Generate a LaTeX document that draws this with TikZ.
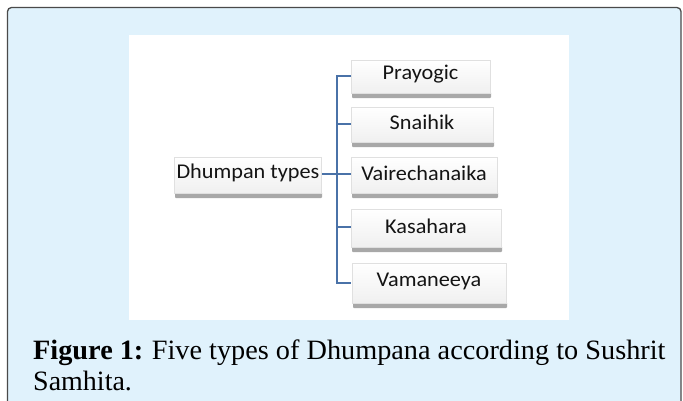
\documentclass[tikz,border=0pt]{standalone}
\usepackage{fontspec}
\setmainfont{Liberation Serif}
\newfontfamily\boxfont{Carlito}
\usetikzlibrary{calc}
\definecolor{panelblue}{HTML}{E0F2FC}
\definecolor{paneledge}{HTML}{4A4A4A}
\definecolor{linkblue}{HTML}{4A72A8}
\definecolor{shadowgray}{HTML}{A8A8A8}
\tikzset{
  typebox/.style={draw=black!12, line width=0.4pt, top color=white, bottom color=black!6},
  boxtext/.style={font=\boxfont\fontsize{21}{23}\selectfont, text=black!92, inner sep=0pt},
  link/.style={draw=linkblue, line width=1.6pt},
  captext/.style={anchor=base west, inner sep=0pt, font=\fontsize{28}{32}\selectfont},
}
\newcommand{\wide}[1]{\scalebox{1.06}[1]{#1}}
\begin{document}
\begin{tikzpicture}[x=1pt,y=-1pt]
\useasboundingbox (0,0) rectangle (683,400);
% outer panel
\path[fill=panelblue, draw=paneledge, line width=1.3pt, rounded corners=4pt] (7.5,7.5) rectangle (681,412);
% white figure area
\fill[white] (129,35) rectangle (569,320);
% boxes: shadow then main
\fill[shadowgray, rounded corners=1pt] (175,192) rectangle (322,198);
\fill[typebox] (174,157) rectangle (321,193);
\node[boxtext] (root) at (248,173) {\wide{Dhumpan types}};
\coordinate (rootr) at (322,174);

\fill[shadowgray, rounded corners=1pt] (352,92) rectangle (491,98);
\fill[typebox] (351,60) rectangle (490,93);
\node[boxtext] (t1) at (420.5,74.5) {\wide{Prayogic}};

\fill[shadowgray, rounded corners=1pt] (352,141) rectangle (494,147);
\fill[typebox] (351,107) rectangle (493,142);
\node[boxtext] (t2) at (422,122.5) {\wide{Snaihik}};

\fill[shadowgray, rounded corners=1pt] (352,192) rectangle (498,198);
\fill[typebox] (351,157) rectangle (497,193);
\node[boxtext] (t3) at (424,173.5) {\wide{Vairechanaika}};

\fill[shadowgray, rounded corners=1pt] (352,246) rectangle (502,252);
\fill[typebox] (351,209) rectangle (501,247);
\node[boxtext] (t4) at (426,226) {\wide{Kasahara}};

\fill[shadowgray, rounded corners=1pt] (353,302) rectangle (507,308);
\fill[typebox] (352,263) rectangle (506,303);
\node[boxtext] (t5) at (429,281) {\wide{Vamaneeya}};

% connectors
\coordinate (b1) at (351,76);
\coordinate (b2) at (351,124);
\coordinate (b3) at (351,174);
\coordinate (b4) at (351,227);
\coordinate (b5) at (351,283);
\draw[link] (rootr) -- (b3);
\draw[link] (b1) -| (337,283) -- (b5);
\draw[link] (337,124) -- (b2);
\draw[link] (337,227) -- (b4);
% caption
\node[captext] (cap1) at (33,359) {\scalebox{1.01}[1]{\textbf{Figure 1:}\hspace{-1pt} Five types of Dhumpana according to Sushrit}};
\node[captext] (cap2) at (33,390) {Samhita.};
\end{tikzpicture}
\end{document}
